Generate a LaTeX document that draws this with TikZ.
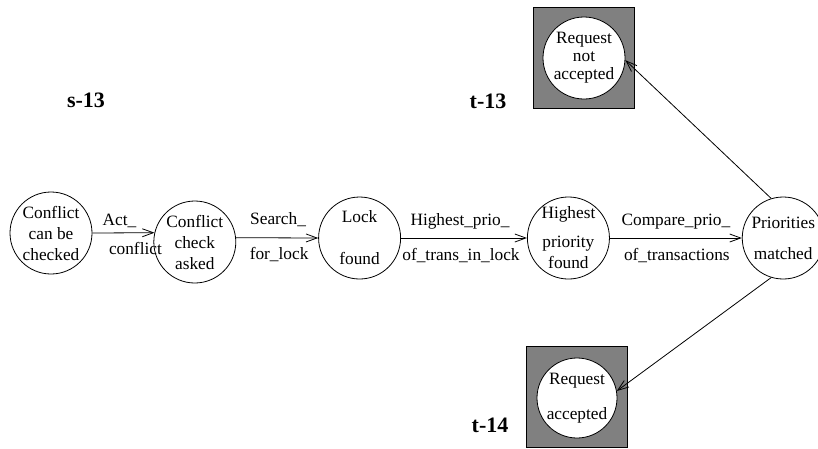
\documentclass[tikz,border=0pt]{standalone}
\usepackage{fontspec}
\setmainfont{Liberation Serif}
\usetikzlibrary{positioning, arrows.meta, calc}

\begin{document}
\begin{tikzpicture}[
  x=1pt, y=-1pt,
  >={Straight Barb[length=11pt, width=8pt]},
  every node/.style={font=\fontsize{17.3}{21}\selectfont},
  stat/.style = {circle, draw, line width=0.8pt, minimum size=82pt, inner sep=0pt, align=center, fill=white},
  goal/.style = {draw, line width=0.8pt, fill=gray, minimum size=101pt, inner sep=0pt},
  arr/.style  = {->, line width=0.8pt},
  lbl/.style  = {anchor=base, inner sep=0pt},
  tag/.style  = {font=\fontsize{22}{26}\selectfont\bfseries},
]
  \useasboundingbox (0,0) rectangle (818,448);
  % main chain
  \node[stat]                                    (c1) at (51,233) {Conflict\\can be\\checked};
  \node[stat, right=61pt of c1, yshift=-9pt]     (c2) {Conflict\\check\\asked};
  \node[stat, right=82pt of c2, yshift=4pt]      (c3) {Lock\\[21pt]found};
  \node[stat, right=126pt of c3, minimum size=78pt] (c4) {Highest\\[8pt]priority\\found};
  \node[stat, right=132pt of c4]                 (c5) {Priorities\\[10pt]matched};
  % end states
  \node[goal] (topbox) at (584,58) {};
  \node[stat] (rna) at (584,58) {Request\\[-3pt]not\\[-3pt]accepted};
  \node[goal] (botbox) at (577,397) {};
  \node[stat, minimum size=80pt] (ra) at (577,398) {Request\\[14pt]accepted};
  % tags
  \node[tag] (s13) at (86,100) {s-13};
  \node[tag] (t13) at (488,101) {t-13};
  \node[tag] (t14) at (490,425) {t-14};
  % transitions
  \draw[arr] (c1.east) -- (c2.167)
    node[lbl, midway, xshift=-4pt, yshift=7pt]  (a1) {Act\_}
    node[lbl, midway, xshift=12pt, yshift=-22pt] (b1) {conflict};
  \draw[arr] (c2.6) -- (c3.west)
    node[lbl, midway, xshift=1pt, yshift=13pt]  (a2) {Search\_}
    node[lbl, midway, xshift=2pt, yshift=-22pt] (b2) {for\_lock};
  \draw[arr] (c3.east) -- (c4.west)
    node[lbl, midway, xshift=-4pt, yshift=13pt] (a3) {Highest\_prio\_}
    node[lbl, midway, xshift=-3pt, yshift=-22pt] (b3) {of\_trans\_in\_lock};
  \draw[arr] (c4.east) -- (c5.west)
    node[lbl, midway, yshift=13pt]               (a4) {Compare\_prio\_}
    node[lbl, midway, xshift=1pt, yshift=-22pt]  (b4) {of\_transactions};
  \draw[arr] (c5.107) -- (rna.-3);
  \draw[arr] (c5.-107) -- (ra.10);
\end{tikzpicture}
\end{document}
